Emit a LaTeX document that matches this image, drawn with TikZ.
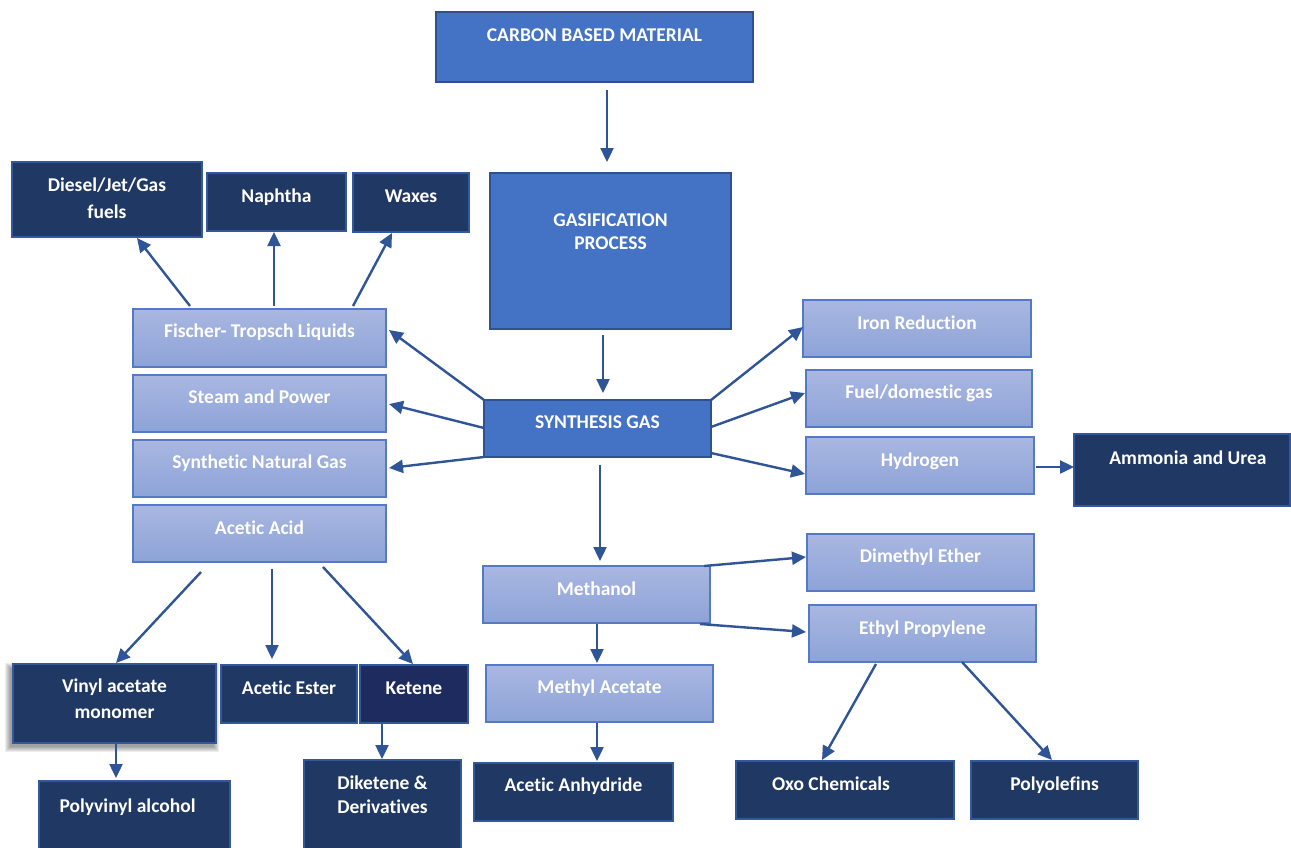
\documentclass[tikz,border=0pt]{standalone}
\usepackage{fontspec}
\setmainfont{Carlito}[Ligatures=NoCommon]
\usetikzlibrary{arrows.meta,calc}
\definecolor{midblue}{HTML}{4472C4}
\definecolor{midedge}{HTML}{2F528F}
\definecolor{lighttop}{HTML}{A9B7E1}
\definecolor{lightbot}{HTML}{8DA3D7}
\definecolor{lightedge}{HTML}{5479C6}
\definecolor{navy}{HTML}{203864}
\definecolor{navyedge}{HTML}{3358A0}
\definecolor{ketenec}{HTML}{1E2B5E}
\definecolor{arrowc}{HTML}{2F5597}
\newcommand\mkbox[6][]{\node[#2, minimum width=#5pt, minimum height=#6pt, #1] (#3) at (#4) {};}
\newcommand\twol[3][0pt]{\begin{tabular}[t]{@{}c@{}}#2\\[#1]#3\end{tabular}}
\begin{document}
\begin{tikzpicture}[x=1pt,y=-1pt,
 box/.style={rectangle, inner sep=0pt, outer sep=0pt, anchor=north west, line width=1.8pt},
 midbox/.style={box, fill=midblue, draw=midedge},
 lightbox/.style={box, top color=lighttop, bottom color=lightbot, draw=lightedge},
 darkbox/.style={box, fill=navy, draw=navyedge},
 lbl/.style={anchor=base, text=white, inner sep=0pt, font=\fontsize{19.5}{26}\selectfont\bfseries},
 arr/.style={draw=arrowc, line width=2.4pt, -{Triangle[length=14pt,width=13pt]}},
 softshadow/.style={fill=black, opacity=0.07}
]
\fill[white] (0,0) rectangle (1291,847);
\useasboundingbox (0,0) rectangle (1291,847);

% soft shadow behind the vinyl acetate box
\foreach \s in {0,1,2,3,4,5}
  \fill[softshadow] (10-\s,668-\s) rectangle (214+\s,747+\s);

% medium blue boxes
\mkbox{midbox}{carbon}{436,12}{317}{70}
\mkbox{midbox}{gas}{490,173}{241}{156}
\mkbox{midbox}{syn}{484,400}{227}{57}

% light boxes
\mkbox{lightbox}{ft}{133,309}{253}{58}
\mkbox{lightbox}{steam}{133,375}{253}{57}
\mkbox{lightbox}{sng}{133,440}{253}{57}
\mkbox{lightbox}{acetic}{133,505}{253}{57}
\mkbox{lightbox}{iron}{803,300}{228}{57}
\mkbox{lightbox}{fuel}{806,370}{226}{57}
\mkbox{lightbox}{hyd}{806,437}{228}{57}
\mkbox{lightbox}{dme}{807,534}{227}{57}
\mkbox{lightbox}{ep}{809,605}{227}{57}
\mkbox{lightbox}{meth}{483,566}{227}{57}
\mkbox{lightbox}{ma}{486,665}{227}{57}

% dark boxes
\mkbox{darkbox}{diesel}{12,162}{190}{75}
\mkbox{darkbox}{naph}{207,173}{139}{58}
\mkbox{darkbox}{wax}{353,173}{116}{59}
\mkbox{darkbox}{amm}{1074,434}{216}{72}
\mkbox{darkbox}{vinyl}{13,664}{203}{79}
\mkbox{darkbox}{ester}{221,665}{136}{58}
\mkbox[fill=ketenec]{darkbox}{ketene}{360,665}{108}{58}
\mkbox{darkbox}{pva}{39,781}{191}{75}
\mkbox{darkbox}{dik}{304,760}{157}{95}
\mkbox{darkbox}{anh}{474,763}{199}{58}
\mkbox{darkbox}{oxo}{736,761}{218}{58}
\mkbox{darkbox}{poly}{971,761}{167}{58}

% labels
\node[lbl] (carbon-t) at ($(carbon.north)+(0,29.5)$) {CARBON BASED MATERIAL};
\node[lbl] (gas-t) at ($(gas.north)+(0,53.5)$) {\twol[-3pt]{GASIFICATION}{PROCESS}};
\node[lbl] (syn-t) at ($(syn.north)+(0,28.5)$) {SYNTHESIS GAS};
\node[lbl] (ft-t) at ($(ft.north)+(0,28.5)$) {Fischer- Tropsch Liquids};
\node[lbl] (steam-t) at ($(steam.north)+(0,28.5)$) {Steam and Power};
\node[lbl] (sng-t) at ($(sng.north)+(0,28.5)$) {Synthetic Natural Gas};
\node[lbl] (acetic-t) at ($(acetic.north)+(0,29)$) {Acetic Acid};
\node[lbl] (iron-t) at ($(iron.north)+(0,29.5)$) {Iron Reduction};
\node[lbl] (fuel-t) at ($(fuel.north)+(0,28.5)$) {Fuel/domestic gas};
\node[lbl] (hyd-t) at ($(hyd.north)+(0,29.5)$) {Hydrogen};
\node[lbl] (dme-t) at ($(dme.north)+(0,28.5)$) {Dimethyl Ether};
\node[lbl] (ep-t) at ($(ep.north)+(0,29.5)$) {Ethyl Propylene};
\node[lbl] (meth-t) at ($(meth.north)+(0,29.5)$) {Methanol};
\node[lbl] (ma-t) at ($(ma.north)+(0,28.5)$) {Methyl Acetate};
\node[lbl] (diesel-t) at ($(diesel.north)+(0,29.5)$) {\twol[1pt]{Diesel/Jet/Gas}{fuels}};
\node[lbl] (naph-t) at ($(naph.north)+(0,29.5)$) {Naphtha};
\node[lbl] (wax-t) at ($(wax.north)+(0,29.5)$) {Waxes};
\node[lbl] (amm-t) at ($(amm.north)+(6,30.5)$) {Ammonia and Urea};
\node[lbl] (vinyl-t) at ($(vinyl.north)+(0,28)$) {\twol[0.5pt]{Vinyl acetate}{monomer}};
\node[lbl] (ester-t) at ($(ester.north)+(0,29.5)$) {Acetic Ester};
\node[lbl] (ketene-t) at ($(ketene.north)+(0,29.5)$) {Ketene};
\node[lbl] (pva-t) at ($(pva.north)+(-7,31)$) {Polyvinyl alcohol};
\node[lbl] (dik-t) at ($(dik.north)+(0,29)$) {\twol[-2pt]{Diketene \&}{Derivatives}};
\node[lbl] (anh-t) at ($(anh.north)+(0,28.5)$) {Acetic Anhydride};
\node[lbl] (oxo-t) at ($(oxo.north)+(-14,29)$) {Oxo Chemicals};
\node[lbl] (poly-t) at ($(poly.north)+(0,29)$) {Polyolefins};

% connectors
\draw[arr] ([shift={(171,78)}]carbon.north west) -- ([shift={(117,-11)}]gas.north west);
\draw[arr] ([shift={(113,162)}]gas.north west) -- ([shift={(119,-7)}]syn.north west);
\draw[arr] (syn.north west) -- ([shift={(256,21)}]ft.north west);
\draw[arr] ([shift={(0,28)}]syn.north west) -- ([shift={(256,29)}]steam.north west);
\draw[arr] (syn.south west) -- ([shift={(256,28)}]sng.north west);
\draw[arr] (syn.north east) -- ([shift={(0,27)}]iron.north west);
\draw[arr] ([shift={(227,27)}]syn.north west) -- ([shift={(-1,23)}]fuel.north west);
\draw[arr] ([shift={(227,53)}]syn.north west) -- ([shift={(-1,37)}]hyd.north west);
\draw[arr] ([shift={(230,30)}]hyd.north west) -- ([shift={(0,33)}]amm.north west);
\draw[arr] ([shift={(116,65)}]syn.north west) -- ([shift={(117,-5)}]meth.north west);
\draw[arr] ([shift={(221,0)}]meth.north west) -- ([shift={(-1,23)}]dme.north west);
\draw[arr] ([shift={(217,58)}]meth.north west) -- ([shift={(-3,27)}]ep.north west);
\draw[arr] ([shift={(114,58)}]meth.north west) -- ([shift={(111,-2)}]ma.north west);
\draw[arr] ([shift={(111,58)}]ma.north west) -- ([shift={(123,-2)}]anh.north west);
\draw[arr] ([shift={(67,59)}]ep.north west) -- ([shift={(86,-1)}]oxo.north west);
\draw[arr] ([shift={(153,57)}]ep.north west) -- ([shift={(81,-1)}]poly.north west);
\draw[arr] ([shift={(57,-3)}]ft.north west) -- ([shift={(125,76)}]diesel.north west);
\draw[arr] ([shift={(141,-3)}]ft.north west) -- ([shift={(67,59)}]naph.north west);
\draw[arr] ([shift={(220,-3)}]ft.north west) -- ([shift={(39,60)}]wax.north west);
\draw[arr] ([shift={(68,67)}]acetic.north west) -- ([shift={(103,-1)}]vinyl.north west);
\draw[arr] ([shift={(139,64)}]acetic.north west) -- ([shift={(51,-6)}]ester.north west);
\draw[arr] ([shift={(190,62)}]acetic.north west) -- ([shift={(53,-1)}]ketene.north west);
\draw[arr] ([shift={(103,80)}]vinyl.north west) -- ([shift={(77,-3)}]pva.north west);
\draw[arr] ([shift={(22,58)}]ketene.north west) -- ([shift={(78,-1)}]dik.north west);
\end{tikzpicture}
\end{document}
